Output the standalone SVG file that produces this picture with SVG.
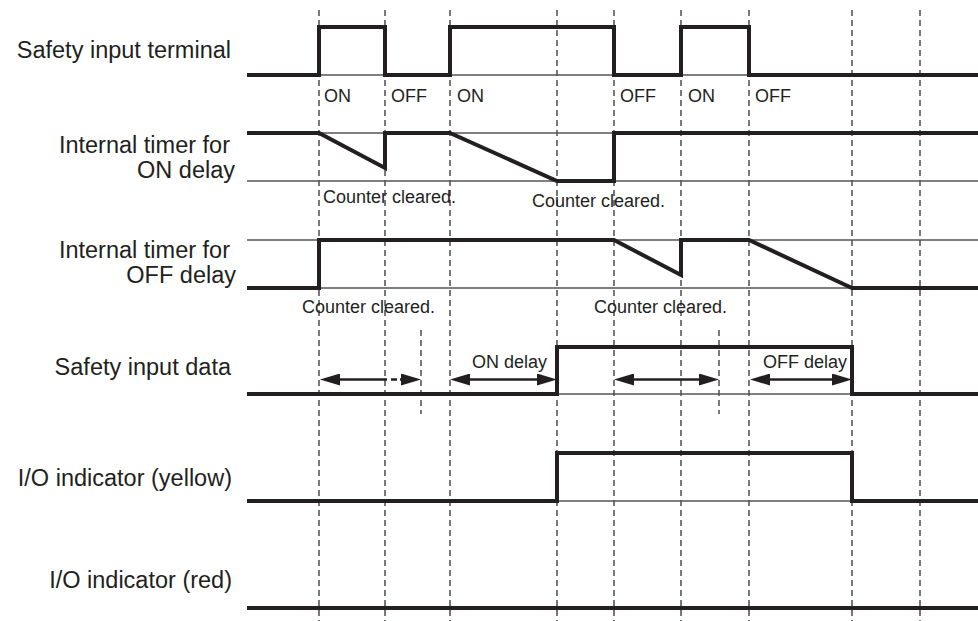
<svg xmlns="http://www.w3.org/2000/svg" width="978" height="621" viewBox="0 0 978 621">
<defs>
<style>
.bg{fill:#ffffff}
.lbl{font-family:"Liberation Sans",Arial,sans-serif;font-size:23.5px;fill:#231f20;text-anchor:end}
.sm{font-family:"Liberation Sans",Arial,sans-serif;font-size:18px;fill:#231f20}
.thick{fill:none;stroke:#231f20;stroke-width:4;stroke-linejoin:miter;stroke-linecap:butt}
.thin{fill:none;stroke:#555555;stroke-width:1.3}
.dash{fill:none;stroke:#231f20;stroke-width:1.2;stroke-dasharray:6 4}
.arr{fill:none;stroke:#231f20;stroke-width:2.5}
</style>
<marker id="ah" viewBox="0 0 20 12" refX="10" refY="6" markerWidth="20" markerHeight="12" markerUnits="userSpaceOnUse" orient="auto-start-reverse">
<path d="M0,0 L20,6 L0,12 z" fill="#231f20"/>
</marker>
</defs>
<rect class="bg" x="0" y="0" width="978" height="621"/>

<g id="timing-grid">
<line class="dash" x1="319" y1="10" x2="319" y2="621"/>
<line class="dash" x1="385" y1="10" x2="385" y2="621"/>
<line class="dash" x1="450" y1="10" x2="450" y2="621"/>
<line class="dash" x1="557" y1="10" x2="557" y2="621"/>
<line class="dash" x1="614" y1="10" x2="614" y2="621"/>
<line class="dash" x1="681" y1="10" x2="681" y2="621"/>
<line class="dash" x1="749" y1="10" x2="749" y2="621"/>
<line class="dash" x1="852" y1="10" x2="852" y2="621"/>
<line class="dash" x1="920" y1="10" x2="920" y2="621"/>
<line class="dash" x1="421" y1="330" x2="421" y2="414"/>
<line class="dash" x1="719" y1="330" x2="719" y2="414"/>
</g>

<g id="row-safety-input-terminal">
<text class="lbl" x="231" y="58">Safety input terminal</text>
<line class="thin" x1="247" y1="75" x2="978" y2="75"/>
<polyline class="thick" points="247,75 319,75 319,27 385,27 385,75 450,75 450,27 614,27 614,75 681,75 681,27 749,27 749,75 978,75"/>
<text class="sm" x="324" y="102">ON</text>
<text class="sm" x="391" y="102">OFF</text>
<text class="sm" x="457" y="102">ON</text>
<text class="sm" x="620" y="102">OFF</text>
<text class="sm" x="688" y="102">ON</text>
<text class="sm" x="755" y="102">OFF</text>
</g>

<g id="row-on-delay-timer">
<text class="lbl" x="230" y="153">Internal timer for</text>
<text class="lbl" x="235" y="178">ON delay</text>
<line class="thin" x1="247" y1="133" x2="978" y2="133"/>
<line class="thin" x1="247" y1="181" x2="978" y2="181"/>
<polyline class="thick" points="247,133 319,133 385,168 385,133 450,133 557,181 614,181 614,133 978,133"/>
<text class="sm" x="323" y="203">Counter cleared.</text>
<text class="sm" x="532" y="207">Counter cleared.</text>
</g>

<g id="row-off-delay-timer">
<text class="lbl" x="230" y="258">Internal timer for</text>
<text class="lbl" x="236" y="283">OFF delay</text>
<line class="thin" x1="247" y1="240" x2="978" y2="240"/>
<line class="thin" x1="247" y1="288" x2="978" y2="288"/>
<polyline class="thick" points="247,288 319,288 319,240 614,240 681,275 681,240 749,240 852,288 978,288"/>
<text class="sm" x="302" y="313">Counter cleared.</text>
<text class="sm" x="594" y="313">Counter cleared.</text>
</g>

<g id="row-safety-input-data">
<text class="lbl" x="231" y="375">Safety input data</text>
<line class="thin" x1="247" y1="394" x2="978" y2="394"/>
<polyline class="thick" points="247,394 557,394 557,347 852,347 852,394 978,394"/>
<text class="sm" x="472" y="368">ON delay</text>
<text class="sm" x="763" y="368">OFF delay</text>
</g>

<g id="row-io-yellow">
<text class="lbl" x="232" y="486">I/O indicator (yellow)</text>
<line class="thin" x1="247" y1="501" x2="978" y2="501"/>
<polyline class="thick" points="247,501 557,501 557,453 852,453 852,501 978,501"/>
</g>

<g id="row-io-red">
<text class="lbl" x="232" y="588">I/O indicator (red)</text>
<line class="thick" x1="247" y1="608" x2="978" y2="608"/>
</g>

<g id="connectors">
<line class="arr" x1="330" y1="379.5" x2="387" y2="379.5" marker-start="url(#ah)"/>
<line class="arr" x1="391" y1="379.5" x2="397" y2="379.5"/>
<line class="arr" x1="400" y1="379.5" x2="411" y2="379.5" marker-end="url(#ah)"/>
<line class="arr" x1="460" y1="379.5" x2="547" y2="379.5" marker-start="url(#ah)" marker-end="url(#ah)"/>
<line class="arr" x1="624" y1="379.5" x2="709" y2="379.5" marker-start="url(#ah)" marker-end="url(#ah)"/>
<line class="arr" x1="760" y1="379.5" x2="842" y2="379.5" marker-start="url(#ah)" marker-end="url(#ah)"/>
</g>
</svg>
